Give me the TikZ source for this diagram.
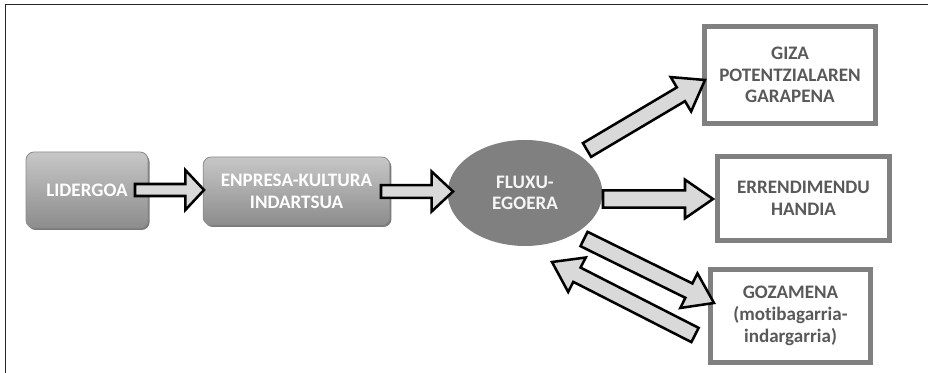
\documentclass[tikz,border=0pt]{standalone}
\usepackage{fontspec}
\setmainfont{Carlito}[Ligatures={NoCommon}]
\usetikzlibrary{calc,shadows,shapes.geometric}
\newcommand{\blockarr}[5]{%
  \coordinate (hb) at ($(#2)!#5!(#1)$);
  \draw[blockarrow] ($(#1)!#3!90:(#2)$) -- ($(hb)!#3!-90:(#1)$) -- ($(hb)!#4!-90:(#1)$) -- (#2)
    -- ($(hb)!#4!90:(#1)$) -- ($(hb)!#3!90:(#1)$) -- ($(#1)!#3!-90:(#2)$) -- cycle;}
\begin{document}
\begin{tikzpicture}[x=0.75pt,y=-0.75pt,
  txt/.style={font=\bfseries\fontsize{14.3}{16.3}\selectfont, align=center, inner sep=0pt},
  gbox/.style={txt, rounded corners=6pt, draw=black!45, line width=0.6pt,
    top color=black!22, bottom color=black!45, text=white,
    drop shadow={shadow xshift=1.2pt, shadow yshift=-1.5pt, fill=black!65, opacity=0.8}},
  wbox/.style={txt, draw=black!50, line width=3.75pt, fill=white, text=black!65},
  blockarrow/.style={draw=black, line width=1.9pt, fill=black!15, line join=miter}]
\useasboundingbox (0,0) rectangle (928,373);
\fill[white] (0,0) rectangle (928,373);
\draw[line width=1.4pt, black!85] (5.5,373) -- (5.5,4.5) -- (928,4.5);

\node[gbox, minimum width=91.5pt, minimum height=57pt] (lid) at (87,190) {LIDERGOA};
\node[gbox, minimum width=140pt, minimum height=51pt] (enp) at (296.5,191) {ENPRESA-KULTURA\\INDARTSUA};
\node[ellipse, fill=black!50, minimum width=116pt, minimum height=79.5pt, txt, text=black!4] (flx) at (525,193) {FLUXU-\\EGOERA};
\node[wbox, minimum width=128.25pt, minimum height=72.75pt] (giz) at (790,75) {GIZA\\POTENTZIALAREN\\GARAPENA};
\node[wbox, minimum width=129pt, minimum height=63pt] (err) at (803.5,198.5) {ERRENDIMENDU\\HANDIA};
\node[wbox, minimum width=120pt, minimum height=69.75pt] (goz) at (790.5,316) {GOZAMENA\\(motibagarria-\\indargarria)};

\coordinate (a1s) at (135,190); \coordinate (a1e) at (204,190);
\coordinate (a2s) at (381,191.5); \coordinate (a2e) at (453,191.5);
\coordinate (a3s) at (587,150); \coordinate (a3e) at (705,80);
\coordinate (a4s) at (603,199); \coordinate (a4e) at (713,199);
\coordinate (a5s) at (584,239); \coordinate (a5e) at (714,303);
\coordinate (a6s) at (695,335); \coordinate (a6e) at (552,262);

\blockarr{a1s}{a1e}{4.5pt}{15pt}{14pt}
\blockarr{a2s}{a2e}{4.8pt}{15pt}{16pt}
\blockarr{a3s}{a3e}{6pt}{15pt}{21pt}
\blockarr{a4s}{a4e}{6.5pt}{14.5pt}{21pt}
\blockarr{a5s}{a5e}{6pt}{14.5pt}{21pt}
\blockarr{a6s}{a6e}{6pt}{14.5pt}{21pt}
\end{tikzpicture}
\end{document}
